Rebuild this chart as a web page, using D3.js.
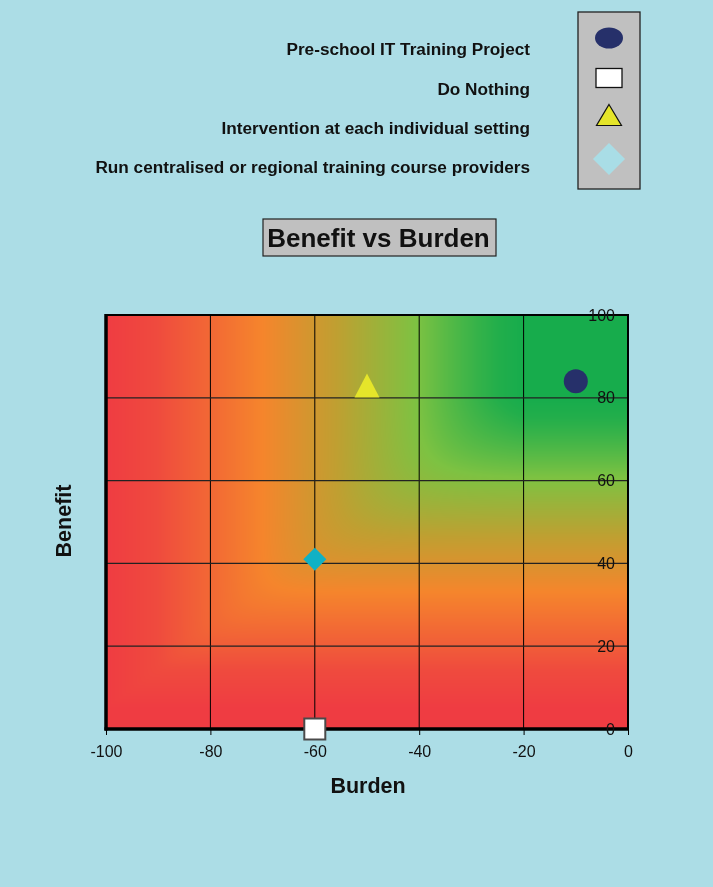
<!DOCTYPE html>
<html>
<head>
<meta charset="utf-8">
<script src="https://cdn.jsdelivr.net/npm/d3@7/dist/d3.min.js"></script>
<style>
  html, body { margin: 0; padding: 0; background: #acdde6; }
  #wrap { position: relative; width: 713px; height: 887px; overflow: hidden; }
  #bg { position: absolute; left: 0; top: 0; }
  svg { position: absolute; left: 0; top: 0; }
  text { font-family: "Liberation Sans", Arial, sans-serif; }
</style>
</head>
<body>
<div id="wrap">
  <canvas id="bg"></canvas>
  <svg id="chart" width="713" height="887"></svg>
</div>
<script>
// ---- data ----
const seriesNames = [
  "Pre-school IT Training Project",
  "Do Nothing",
  "Intervention at each individual setting",
  "Run centralised or regional training course providers"
];
const burdenValues = [-10, -60, -50, -60];
const benefitValues = [84, 0, 83, 41];
const xTicks = [-100, -80, -60, -40, -20, 0];
const yTicks = [0, 20, 40, 60, 80, 100];

// ---- layout ----
const W = 713, H = 887;
const plot = { left: 106, right: 628, top: 315, bottom: 729 };
const x = d3.scaleLinear().domain([-100, 0]).range([plot.left, plot.right]);
const y = d3.scaleLinear().domain([0, 100]).range([plot.bottom, plot.top]);

// background colour field (decoration)
const colorScale = d3.scaleLinear()
  .domain([0, 0.12, 0.375, 0.55, 0.74, 0.9, 1])
  .range(["#ef3c42", "#ef4a3e", "#f5852c", "#c09f31", "#7dc242", "#22ae4b", "#00a84f"])
  .clamp(true);
function score(bx, by) {
  const sx = Math.max(0.001, Math.min(1, (bx + 100) / 80));
  const sy = Math.max(0.001, Math.min(1, (by - 5) / 75));
  const p = 10;
  return Math.pow(Math.pow(sx, -p) + Math.pow(sy, -p), -1 / p);
}
const cv = document.getElementById("bg");
cv.width = W; cv.height = H;
const ctx = cv.getContext("2d");
const pw = plot.right - plot.left, ph = plot.bottom - plot.top;
const img = ctx.createImageData(pw, ph);
for (let j = 0; j < ph; j++) {
  const by = y.invert(plot.top + j + 0.5);
  for (let i = 0; i < pw; i++) {
    const bx = x.invert(plot.left + i + 0.5);
    const c = d3.rgb(colorScale(score(bx, by)));
    const k = (j * pw + i) * 4;
    img.data[k] = c.r; img.data[k + 1] = c.g; img.data[k + 2] = c.b; img.data[k + 3] = 255;
  }
}
ctx.putImageData(img, plot.left, plot.top);

const svg = d3.select("#chart");

// gridlines
const g = svg.append("g");
g.selectAll(".vg").data(xTicks.slice(1, -1)).enter().append("line")
  .attr("x1", d => x(d)).attr("x2", d => x(d))
  .attr("y1", plot.top).attr("y2", plot.bottom)
  .attr("stroke", "#000").attr("stroke-width", 1);
g.selectAll(".hg").data(yTicks.slice(1, -1)).enter().append("line")
  .attr("x1", plot.left).attr("x2", plot.right)
  .attr("y1", d => y(d)).attr("y2", d => y(d))
  .attr("stroke", "#222").attr("stroke-width", 1.3);

// plot border
svg.append("rect")
  .attr("x", plot.left).attr("y", plot.top)
  .attr("width", pw).attr("height", ph)
  .attr("fill", "none").attr("stroke", "#000").attr("stroke-width", 2);
svg.append("line").attr("x1", plot.left).attr("x2", plot.left)
  .attr("y1", plot.top - 1).attr("y2", plot.bottom + 1.5)
  .attr("stroke", "#000").attr("stroke-width", 3.5);
svg.append("line").attr("x1", plot.left - 1.5).attr("x2", plot.right + 1)
  .attr("y1", plot.bottom).attr("y2", plot.bottom)
  .attr("stroke", "#000").attr("stroke-width", 3.5);

// x axis
const xAxis = d3.axisBottom(x).tickValues(xTicks).tickSize(6).tickSizeOuter(0)
  .tickPadding(11).tickFormat(d => String(d));
const xg = svg.append("g").attr("transform", `translate(0,${plot.bottom})`).call(xAxis);
xg.select(".domain").remove();
xg.selectAll(".tick line").attr("stroke", "#000").attr("stroke-width", 1);
xg.selectAll(".tick text").attr("font-size", 16).attr("fill", "#111")
  .style("font-family", '"Liberation Sans", Arial, sans-serif');

// y tick labels (inside right edge)
svg.append("g").selectAll("text").data(yTicks).enter().append("text")
  .attr("x", plot.right - 13).attr("y", d => y(d))
  .attr("text-anchor", "end").attr("dominant-baseline", "central")
  .attr("font-size", 16).attr("fill", "#111").text(d => String(d));

// axis titles
svg.append("text").attr("x", 368).attr("y", 793).attr("text-anchor", "middle")
  .attr("font-size", 21.5).attr("font-weight", "bold").attr("fill", "#111").text("Burden");
svg.append("text").attr("transform", "translate(71,521) rotate(-90)").attr("text-anchor", "middle")
  .attr("font-size", 21.5).attr("font-weight", "bold").attr("fill", "#111").text("Benefit");

// title
svg.append("rect").attr("x", 263).attr("y", 219).attr("width", 233).attr("height", 37)
  .attr("fill", "#c0c0c0").attr("stroke", "#222").attr("stroke-width", 1.2);
svg.append("text").attr("x", 378.5).attr("y", 247).attr("text-anchor", "middle")
  .attr("font-size", 26).attr("font-weight", "bold").attr("fill", "#111").text("Benefit vs Burden");

// marker drawing
const styles = [
  { fill: "#26306a" },
  { fill: "#ffffff" },
  { fill: "#e5e52a" },
  { fill: "#10b1c5" }
];
function drawMarker(sel, i, cx, cy, legend) {
  if (i === 0) {
    sel.append("ellipse").attr("cx", cx).attr("cy", cy)
      .attr("rx", legend ? 14 : 12).attr("ry", legend ? 10.5 : 12)
      .attr("fill", styles[0].fill);
  } else if (i === 1) {
    const w = legend ? 26 : 21, h = legend ? 19 : 21;
    sel.append("rect").attr("x", cx - w / 2).attr("y", cy - h / 2)
      .attr("width", w).attr("height", h)
      .attr("fill", "#fff").attr("stroke", legend ? "#111" : "#4a4a4a")
      .attr("stroke-width", legend ? 1.3 : 2);
  } else if (i === 2) {
    const w = legend ? 25 : 25, h = legend ? 21 : 24;
    sel.append("path")
      .attr("d", `M${cx},${cy - h / 2}L${cx + w / 2},${cy + h / 2}L${cx - w / 2},${cy + h / 2}Z`)
      .attr("fill", styles[2].fill).attr("stroke", legend ? "#111" : "none").attr("stroke-width", 1.2);
  } else {
    const r = legend ? 16 : 11.5;
    sel.append("path")
      .attr("d", `M${cx},${cy - r}L${cx + r},${cy}L${cx},${cy + r}L${cx - r},${cy}Z`)
      .attr("fill", legend ? "#a9dde6" : styles[3].fill);
  }
}

// data markers
const mg = svg.append("g");
const order = [1, 3, 2, 0];
order.forEach(i => drawMarker(mg, i, x(burdenValues[i]), y(benefitValues[i]), false));

// legend
svg.append("rect").attr("x", 578).attr("y", 12).attr("width", 62).attr("height", 177)
  .attr("fill", "#c0c0c0").attr("stroke", "#222").attr("stroke-width", 1.3);
const legSymY = [38, 78, 115, 159];
const legTextY = [49, 89, 128, 167];
seriesNames.forEach((name, i) => {
  drawMarker(svg, i, 609, legSymY[i], true);
  svg.append("text").attr("x", 530).attr("y", legTextY[i]).attr("dominant-baseline", "central")
    .attr("text-anchor", "end").attr("font-size", 17.2).attr("font-weight", "bold")
    .attr("fill", "#111").text(name);
});
</script>
</body>
</html>
